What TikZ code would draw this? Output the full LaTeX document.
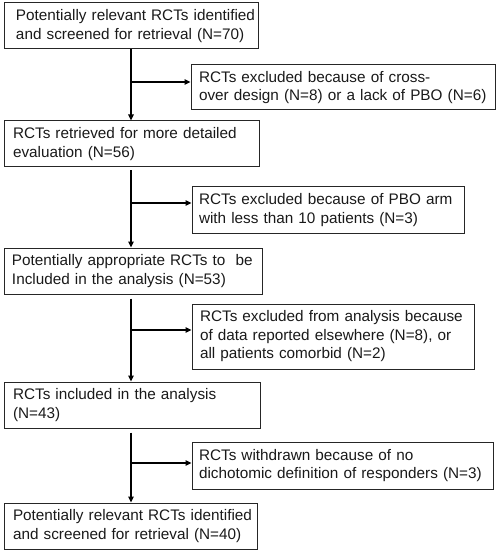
\documentclass[tikz,border=0pt]{standalone}
\usepackage{fontspec}
\setmainfont{Liberation Sans}
\usetikzlibrary{arrows.meta}
\begin{document}
\begin{tikzpicture}[x=1pt,y=-1pt,
  box/.style={draw=black!85, line width=1pt, align=left, anchor=center,
    font=\fontsize{15.3}{18.5}\selectfont, text=black!90, inner ysep=0pt},
  conn/.style={line width=1.7pt, black, -{Triangle[length=6pt,width=5.5pt]}},
]
\useasboundingbox (0,0) rectangle (498,553);
% main column
\node[box, minimum width=254pt, minimum height=46pt, inner xsep=12pt, text width=230pt] (b1) at (131,26)
  {\mbox{Potentially relevant RCTs identified}\\\mbox{and screened for retrieval (N=70)}};
\node[box, minimum width=255pt, minimum height=46pt, inner xsep=9pt, text width=237pt] (b2) at (131.5,144)
  {RCTs retrieved for more detailed\\evaluation (N=56)};
\node[box, minimum width=258pt, minimum height=46pt, inner xsep=8pt, text width=242pt] (b3) at (133,271)
  {Potentially appropriate RCTs to\ \ be\\Included in the analysis (N=53)};
\node[box, minimum width=256pt, minimum height=46pt, inner xsep=9pt, text width=238pt] (b4) at (132,405)
  {RCTs included in the analysis\\(N=43)};
\node[box, minimum width=253pt, minimum height=46pt, inner xsep=9pt, text width=235pt] (b5) at (130.5,526)
  {\mbox{Potentially relevant RCTs identified}\\\mbox{and screened for retrieval (N=40)}};
% side boxes
\node[box, minimum width=304pt, minimum height=45pt, inner xsep=8pt, text width=288pt] (s1) at (343,87.5)
  {RCTs excluded because of cross-\\\mbox{over design (N=8) or a lack of PBO (N=6)}};
\node[box, minimum width=272pt, minimum height=46pt, inner xsep=7pt, text width=258pt] (s2) at (328,210)
  {RCTs excluded because of PBO arm\\with less than 10 patients (N=3)};
\node[box, minimum width=282pt, minimum height=65pt, inner xsep=8pt, text width=266pt] (s3) at (333,336.5)
  {\mbox{RCTs excluded from analysis because}\\\mbox{of data reported elsewhere (N=8), or}\\all patients comorbid (N=2)};
\node[box, minimum width=301pt, minimum height=47pt, inner xsep=7pt, text width=287pt] (s4) at (342.5,465.5)
  {RCTs withdrawn because of no\\\mbox{dichotomic definition of responders (N=3)}};
% junctions
\coordinate (j1) at (131,82);
\coordinate (j2) at (131,203);
\coordinate (j3) at (131,330);
\coordinate (j4) at (131,463);
% connectors
\draw[conn] (j1 |- b1.south) -- (j1 |- b2.north);
\draw[conn] (j1) -- (j1 -| s1.west);
\draw[conn, shorten <=3pt] (j2 |- b2.south) -- (j2 |- b3.north);
\draw[conn] (j2) -- (j2 -| s2.west);
\draw[conn, shorten <=4pt] (j3 |- b3.south) -- (j3 |- b4.north);
\draw[conn] (j3) -- (j3 -| s3.west);
\draw[conn, shorten <=4pt] (j4 |- b4.south) -- (j4 |- b5.north);
\draw[conn] (j4) -- (j4 -| s4.west);
\end{tikzpicture}
\end{document}
